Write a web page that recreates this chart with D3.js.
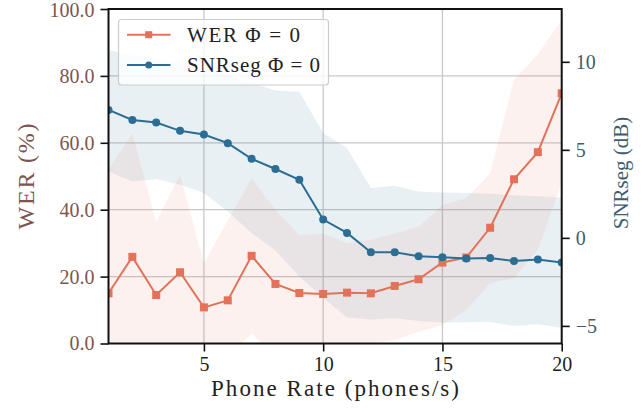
<!DOCTYPE html>
<html>
<head>
<meta charset="utf-8">
<script src="https://cdn.jsdelivr.net/npm/d3@7"></script>
<style>
  body { margin: 0; background: #fff; }
  svg { display: block; }
  text { font-family: "Liberation Serif", "DejaVu Serif", serif; }
</style>
</head>
<body>
<svg id="chart" width="642" height="412"></svg>
<script>
// Phone rate (phones/s)
const phoneRate = [1, 2, 3, 4, 5, 6, 7, 8, 9, 10, 11, 12, 13, 14, 15, 16, 17, 18, 19, 20];

// Word error rate (%), mean and spread band
const werMean  = [15.0, 25.9, 14.5, 21.3, 10.8, 12.9, 26.2, 17.8, 15.1, 14.8, 15.2, 15.0, 17.2, 19.2, 24.2, 25.7, 34.6, 49.1, 57.2, 74.8];
const werUpper = [52.0, 62.8, 36.4, 50.4, 24.0, 36.7, 49.4, 39.9, 32.4, 32.9, 30.0, 31.0, 32.9, 34.9, 41.4, 43.4, 50.9, 78.8, 86.5, 96.7];
const werLower = [-4.0, -6.0, -3.0, -5.0, -8.0, -4.0, 3.0, -4.0, -3.0, -2.0, -1.0, 0.0, 1.0, 3.5, 5.5, 10.0, 18.0, 19.5, 28.0, 48.0];

// Segmental SNR (dB), mean and spread band
const snrMean  = [7.27, 6.70, 6.55, 6.08, 5.87, 5.38, 4.49, 3.91, 3.30, 1.04, 0.28, -0.82, -0.82, -1.04, -1.10, -1.17, -1.15, -1.32, -1.23, -1.40];
const snrUpper = [10.66, 10.38, 10.15, 9.87, 9.62, 9.25, 8.79, 8.37, 8.30, 5.95, 5.10, 2.83, 2.96, 2.64, 2.58, 2.55, 2.51, 2.42, 2.37, 2.28];
const snrLower = [3.77, 3.20, 3.34, 3.02, 2.55, 1.50, 0.28, -0.72, -2.20, -3.40, -4.53, -4.63, -4.57, -4.72, -4.81, -4.80, -4.78, -5.00, -4.90, -5.10];

// Axis ticks
const xTicks = [5, 10, 15, 20];
const werTicks = [0, 20, 40, 60, 80, 100];
const snrTicks = [-5, 0, 5, 10];

const werColor = "#e2735a";
const snrColor = "#2c6e93";
const werText = "#7d5550";
const snrText = "#3f5d70";

const svg = d3.select("#chart");
const m = { left: 108.5, right: 80.3, top: 9, bottom: 68.5 };
const W = 642, H = 412;

const x = d3.scaleLinear().domain([1, 20]).range([m.left, W - m.right]);
const yW = d3.scaleLinear().domain([0, 100]).range([H - m.bottom, m.top]);
const yS = d3.scaleLinear().domain([-6, 13]).range([H - m.bottom, m.top]);

svg.append("defs").append("clipPath").attr("id", "plotClip")
  .append("rect")
  .attr("x", m.left).attr("y", m.top)
  .attr("width", W - m.left - m.right).attr("height", H - m.top - m.bottom);

// Grid lines
const grid = svg.append("g").attr("stroke", "#c8c8c8").attr("stroke-width", 1.3);
grid.selectAll("line.v").data(xTicks.filter(d => d < 20)).join("line")
  .attr("x1", d => x(d)).attr("x2", d => x(d))
  .attr("y1", m.top).attr("y2", H - m.bottom);
grid.selectAll("line.h").data(werTicks.filter(d => d > 0 && d < 100)).join("line")
  .attr("x1", m.left).attr("x2", W - m.right)
  .attr("y1", d => yW(d)).attr("y2", d => yW(d));

// Spread bands
const plot = svg.append("g").attr("clip-path", "url(#plotClip)");
const idx = phoneRate.map((d, i) => i);

plot.append("path")
  .attr("d", d3.area().x(i => x(phoneRate[i])).y0(i => yS(snrLower[i])).y1(i => yS(snrUpper[i]))(idx))
  .attr("fill", snrColor).attr("fill-opacity", 0.1);
plot.append("path")
  .attr("d", d3.area().x(i => x(phoneRate[i])).y0(i => yW(werLower[i])).y1(i => yW(werUpper[i]))(idx))
  .attr("fill", werColor).attr("fill-opacity", 0.1);

// WER line and square markers
plot.append("path")
  .attr("d", d3.line().x(i => x(phoneRate[i])).y(i => yW(werMean[i]))(idx))
  .attr("fill", "none").attr("stroke", werColor).attr("stroke-width", 2);
plot.selectAll("rect.wer").data(idx).join("rect")
  .attr("x", i => x(phoneRate[i]) - 4).attr("y", i => yW(werMean[i]) - 4)
  .attr("width", 8).attr("height", 8).attr("fill", werColor);

// SNRseg line and circle markers
plot.append("path")
  .attr("d", d3.line().x(i => x(phoneRate[i])).y(i => yS(snrMean[i]))(idx))
  .attr("fill", "none").attr("stroke", snrColor).attr("stroke-width", 2);
plot.selectAll("circle.snr").data(idx).join("circle")
  .attr("cx", i => x(phoneRate[i])).attr("cy", i => yS(snrMean[i]))
  .attr("r", 4).attr("fill", snrColor);

// Axes
const fmtW = d3.format(".1f");
const axB = svg.append("g").attr("transform", `translate(0,${H - m.bottom})`)
  .call(d3.axisBottom(x).tickValues(xTicks).tickSize(8).tickPadding(5));
const axL = svg.append("g").attr("transform", `translate(${m.left},0)`)
  .call(d3.axisLeft(yW).tickValues(werTicks).tickFormat(fmtW).tickSize(8).tickPadding(6));
const axR = svg.append("g").attr("transform", `translate(${W - m.right},0)`)
  .call(d3.axisRight(yS).tickValues(snrTicks).tickFormat(d => d < 0 ? "\u2212" + Math.abs(d) : String(d)).tickSize(8).tickPadding(6));

[axB, axL, axR].forEach(a => {
  a.select(".domain").remove();
  a.selectAll(".tick line").attr("stroke", "#111").attr("stroke-width", 1.6);
  a.selectAll(".tick text").attr("font-family", "Liberation Serif, DejaVu Serif, serif").attr("font-size", 20);
});
axB.selectAll(".tick text").attr("fill", "#222");
axL.selectAll(".tick text").attr("fill", werText);
axR.selectAll(".tick text").attr("fill", snrText);
// keep the top label fully inside the canvas
axL.selectAll(".tick").filter(d => d === 100).select("text").attr("dy", "0.38em");

// Frame
svg.append("rect")
  .attr("x", m.left).attr("y", m.top)
  .attr("width", W - m.left - m.right).attr("height", H - m.top - m.bottom)
  .attr("fill", "none").attr("stroke", "#111").attr("stroke-width", 2);

// Axis titles
svg.append("text")
  .attr("x", 335).attr("y", 396)
  .attr("text-anchor", "middle").attr("font-size", 23).attr("fill", "#222")
  .attr("textLength", 248).attr("lengthAdjust", "spacing")
  .text("Phone Rate (phones/s)");
svg.append("text")
  .attr("transform", `translate(34,176.5) rotate(-90)`)
  .attr("text-anchor", "middle").attr("font-size", 24).attr("fill", werText)
  .attr("textLength", 106).attr("lengthAdjust", "spacing")
  .text("WER (%)");
svg.append("text")
  .attr("transform", `translate(628,173) rotate(-90)`)
  .attr("text-anchor", "middle").attr("font-size", 21).attr("fill", snrText)
  .text("SNRseg (dB)");

// Legend
const lg = svg.append("g");
lg.append("rect")
  .attr("x", 118.5).attr("y", 19.5).attr("width", 210).attr("height", 65.5)
  .attr("rx", 3).attr("fill", "#fff").attr("fill-opacity", 0.8)
  .attr("stroke", "#cccccc").attr("stroke-width", 1.2);
const legendItems = [
  { label: "WER \u03A6 = 0", color: werColor, shape: "square", y: 34.7, len: 113 },
  { label: "SNRseg \u03A6 = 0", color: snrColor, shape: "circle", y: 65, len: 133 }
];
legendItems.forEach(it => {
  lg.append("line").attr("x1", 127).attr("x2", 170.5).attr("y1", it.y).attr("y2", it.y)
    .attr("stroke", it.color).attr("stroke-width", 2);
  if (it.shape === "square") {
    lg.append("rect").attr("x", 148.7 - 3.5).attr("y", it.y - 3.5).attr("width", 7).attr("height", 7).attr("fill", it.color);
  } else {
    lg.append("circle").attr("cx", 148.7).attr("cy", it.y).attr("r", 3.5).attr("fill", it.color);
  }
  lg.append("text").attr("x", 187).attr("y", it.y + 7)
    .attr("font-size", 21).attr("fill", "#222")
    .attr("textLength", it.len).attr("lengthAdjust", "spacing")
    .text(it.label);
});
</script>
</body>
</html>
